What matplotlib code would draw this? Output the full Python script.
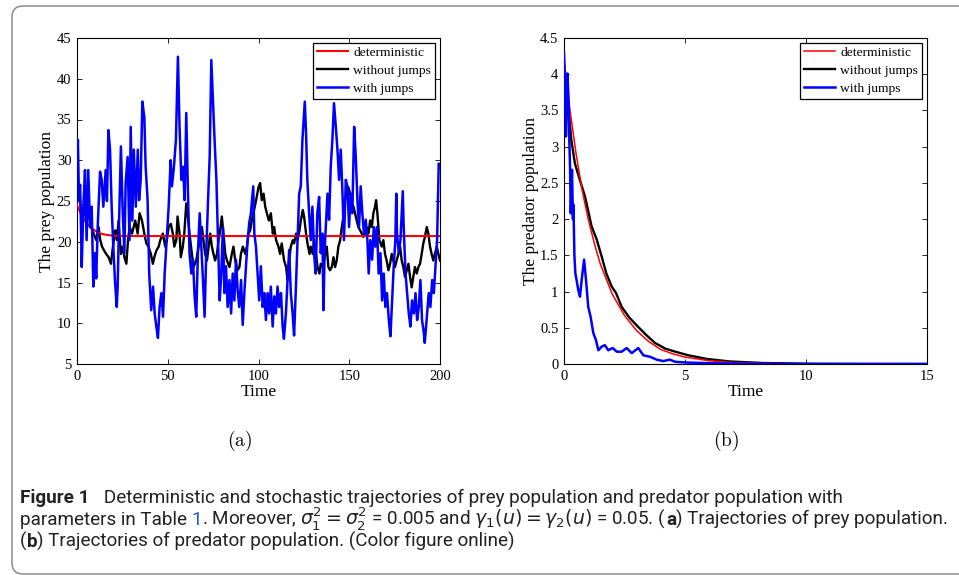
import matplotlib
matplotlib.use("Agg")
import matplotlib.pyplot as plt
from matplotlib.patches import FancyBboxPatch
from matplotlib.ticker import FuncFormatter, MultipleLocator

# (a) prey population
prey_det_t = [0, 2, 4, 6, 8, 10, 13, 16, 20, 25, 200]
prey_det_v = [24.5, 23.5, 22.7, 22.1, 21.7, 21.35, 21.0, 20.85, 20.75, 20.7, 20.7]

prey_nojump_t = [
    0.0, 1.5, 2.8, 4.0, 5.1, 6.4, 7.7, 9.2, 10.6, 11.9, 12.8, 13.8, 15.0, 16.1, 17.4,
    18.7, 19.8, 21.1, 22.0, 22.9, 24.2, 25.3, 26.1, 27.2, 28.1, 29.0, 30.3, 31.2, 32.1,
    33.4, 34.5, 35.8, 37.1, 38.2, 39.4, 40.7, 41.8, 42.6, 43.7, 45.0, 45.9, 47.3, 48.6,
    49.5, 50.5, 51.7, 52.8, 53.6, 54.7, 55.4, 56.5, 57.2, 58.3, 59.1, 60.2, 60.9, 62.0,
    63.3, 64.2, 65.7, 67.0, 67.9, 68.8, 69.7, 70.6, 71.6, 72.5, 73.4, 74.3, 75.2, 76.1,
    77.1, 78.0, 78.9, 79.8, 80.7, 81.7, 82.6, 84.0, 85.3, 86.2, 87.2, 88.4, 89.5, 90.3,
    91.4, 92.7, 93.6, 94.5, 95.4, 96.3, 97.2, 98.7, 100.0, 100.9, 101.8, 102.8, 103.7,
    104.6, 105.7, 106.8, 107.9, 108.6, 109.7, 111.0, 111.9, 112.8, 114.1, 115.2, 116.0,
    117.1, 117.8, 118.9, 119.6, 120.7, 121.5, 122.6, 123.3, 124.4, 125.1, 126.2, 127.0,
    128.1, 128.8, 129.9, 130.6, 131.7, 132.5, 133.6, 134.3, 135.4, 136.7, 137.6, 138.5,
    139.4, 140.4, 141.3, 142.2, 143.1, 144.0, 145.0, 145.9, 146.8, 147.7, 148.6, 149.5,
    150.5, 151.4, 152.3, 153.2, 154.1, 155.0, 156.0, 156.9, 157.8, 158.7, 159.6, 160.6,
    161.5, 162.4, 163.3, 164.2, 164.8, 165.5, 166.6, 167.9, 168.8, 169.7, 170.6, 171.6,
    172.5, 173.4, 174.3, 175.2, 176.1, 177.1, 178.0, 178.9, 179.8, 180.7, 181.7, 182.6,
    183.5, 184.4, 185.3, 186.2, 187.2, 188.1, 189.0, 189.9, 190.8, 191.7, 192.7, 193.6,
    194.5, 195.4, 196.3, 197.2, 198.2, 199.1, 200.0,
]
prey_nojump_v = [
    26.7, 25.1, 23.5, 24.3, 22.6, 23.5, 21.8, 21.0, 20.2, 21.8, 20.2, 19.4, 18.9, 18.5, 18.1,
    17.3, 19.4, 21.4, 20.2, 22.6, 18.5, 19.4, 18.1, 17.3, 20.2, 21.8, 21.0, 21.8, 22.6,
    21.0, 23.5, 22.6, 21.0, 19.8, 19.4, 18.5, 17.3, 18.1, 18.9, 19.4, 20.2, 21.0, 19.4,
    20.2, 21.8, 22.2, 21.0, 19.4, 20.2, 23.1, 21.0, 18.1, 19.4, 21.0, 24.7, 23.5, 21.0,
    18.5, 16.9, 17.7, 19.4, 21.0, 21.8, 20.2, 18.5, 17.7, 19.4, 21.0, 19.4, 18.5, 17.7,
    18.5, 20.2, 21.4, 23.1, 21.0, 18.5, 17.7, 16.9, 18.5, 19.4, 17.7, 16.5, 16.9, 18.5,
    19.4, 18.5, 19.4, 21.0, 21.4, 22.6, 23.5, 25.1, 26.7, 27.2, 25.1, 25.9, 24.3,
    23.5, 22.6, 23.5, 21.0, 21.8, 20.2, 19.4, 18.5, 19.8, 17.7, 16.9, 15.3,
    18.1, 19.4, 20.2, 19.8, 21.0, 20.2, 21.4, 22.6, 23.9, 23.1, 21.0, 19.8,
    18.5, 19.4, 18.5, 20.2, 18.5, 16.9, 16.1, 17.3, 16.9, 18.5, 19.4, 16.9,
    16.5, 16.9, 18.1, 16.9, 17.7, 19.4, 20.2, 21.8, 23.1, 25.1, 25.9, 26.7,
    25.9, 24.7, 24.3, 23.5, 22.6, 21.8, 21.4, 21.0, 20.6, 21.0, 21.8, 21.0,
    22.6, 21.8, 23.5, 24.3, 25.1, 23.5, 20.2, 19.4, 20.2, 18.5, 17.7, 16.5,
    17.3, 18.5, 17.7, 16.9, 17.7, 18.5, 19.4, 17.7, 16.9, 15.7, 16.5, 17.3,
    15.7, 14.4, 15.7, 16.9, 16.1, 16.9, 17.3, 18.5, 19.8, 20.6, 21.8, 21.0,
    19.4, 18.5, 17.7, 18.5, 19.4, 18.5, 17.7,
]

prey_jump_t = [
    0.0, 0.5, 1.1, 1.7, 2.2, 2.6, 3.5, 4.4, 5.3, 6.2, 7.2, 8.1, 9.0, 9.9, 10.6, 11.4,
    12.7, 13.6, 14.5, 15.8, 16.5, 17.3, 18.2, 19.1, 20.0, 20.9, 21.9, 22.4, 23.1, 24.2,
    25.1, 26.1, 26.8, 27.9, 28.9, 29.6, 30.5, 31.3, 32.4, 33.5, 34.2, 35.1, 36.0, 37.1,
    37.8, 38.9, 39.8, 40.9, 41.9, 42.8, 43.7, 44.6, 45.5, 46.5, 47.4, 48.3, 49.2, 50.5,
    51.6, 52.3, 53.4, 54.5, 55.6, 56.5, 57.5, 58.4, 59.3, 60.2, 61.1, 62.0, 63.0, 63.9,
    64.8, 65.7, 66.6, 67.6, 68.5, 69.4, 70.3, 71.2, 72.2, 73.1, 74.0, 74.9, 75.8, 76.8,
    77.7, 78.6, 79.5, 80.4, 81.2, 82.1, 83.0, 84.0, 84.9, 85.8, 86.7, 87.6, 88.5, 89.4,
    90.4, 91.3, 92.2, 93.1, 94.0, 94.9, 95.8, 97.1, 97.7, 98.6, 99.5, 100.4, 101.3,
    102.3, 103.2, 104.1, 105.0, 105.9, 106.8, 107.8, 108.7, 109.6, 110.5, 111.4, 112.4,
    113.3, 114.0, 115.1, 116.0, 116.9, 117.8, 118.8, 119.6, 120.5, 121.4, 122.4, 123.3,
    124.2, 125.5, 126.2, 126.9, 127.9, 128.8, 129.7, 130.6, 131.5, 132.4, 133.4, 134.3,
    135.2, 135.8, 136.5, 137.2, 138.0, 138.9, 139.8, 140.7, 141.6, 142.6, 143.5, 144.4,
    145.3, 146.2, 147.1, 148.1, 149.0, 149.9, 150.8, 151.7, 152.7, 153.6, 154.5, 155.4,
    156.3, 157.2, 158.1, 159.1, 160.0, 160.7, 161.6, 162.6, 163.5, 164.4, 165.3, 166.2,
    167.2, 168.1, 169.0, 169.9, 170.8, 171.8, 172.7, 173.6, 174.5, 175.4, 175.9, 176.3,
    177.3, 178.2, 179.5, 180.0, 181.0, 181.9, 182.8, 183.7, 184.6, 185.6, 186.5, 187.4,
    188.3, 189.2, 190.1, 191.1, 191.6, 192.9, 193.8, 194.7, 195.7, 196.6, 197.5, 198.4,
    199.3, 200.0,
]
prey_jump_v = [
    29.5, 32.5, 25.1, 27.0, 21.8, 16.9, 24.3, 28.8, 20.2, 28.8, 21.8, 24.3, 14.5, 18.6, 15.5, 21.8,
    28.6, 27.6, 24.3, 28.8, 25.0, 33.7, 31.3, 24.3, 19.4, 15.3, 12.0, 14.5, 21.8, 31.7,
    24.3, 18.6, 27.2, 30.4, 20.2, 34.1, 22.6, 31.3, 24.3, 31.3, 25.1, 27.6, 37.2, 35.3,
    29.3, 25.1, 16.0, 11.6, 14.5, 11.2, 9.6, 8.2, 12.0, 13.7, 10.8, 16.1, 19.4, 24.3,
    30.0, 26.8, 29.2, 32.5, 42.7, 34.1, 27.6, 29.2, 25.1, 35.8, 26.4, 18.6, 16.1, 17.8,
    13.3, 10.8, 18.6, 23.5, 19.4, 15.3, 10.8, 18.6, 25.1, 30.4, 42.3, 37.4, 32.5, 27.6,
    20.2, 12.8, 16.1, 21.8, 13.7, 17.0, 12.0, 15.3, 11.2, 16.1, 12.8, 17.8, 14.1, 12.0,
    15.3, 9.8, 13.7, 17.0, 20.2, 22.3, 23.5, 26.8, 21.0, 19.4, 16.1, 12.8, 17.0,
    12.0, 13.7, 10.4, 13.7, 11.2, 14.5, 9.6, 13.3, 11.2, 14.5, 12.0, 13.7,
    9.6, 8.1, 11.2, 15.3, 19.0, 13.7, 11.2, 8.5, 13.7, 19.4, 25.9, 26.8,
    32.5, 37.2, 33.3, 27.6, 23.5, 20.2, 24.3, 18.6, 16.1, 23.5, 25.5, 18.6,
    21.0, 11.6, 19.4, 22.3, 25.9, 22.7, 29.2, 32.5, 37.0, 34.1, 31.3, 27.6,
    31.3, 26.4, 20.2, 27.6, 26.8, 21.8, 25.9, 23.5, 34.1, 30.4, 25.1, 21.8,
    26.8, 23.5, 21.0, 22.7, 20.2, 16.1, 20.2, 17.8, 21.8, 19.4, 21.8, 16.1,
    18.6, 12.8, 16.1, 12.0, 13.7, 10.4, 8.4, 12.8, 17.0, 20.2, 25.9, 21.0,
    18.6, 20.2, 26.2, 21.8, 16.1, 13.7, 11.2, 9.6, 12.8, 11.2, 13.7, 10.4,
    12.0, 15.3, 10.4, 8.8, 7.6, 11.2, 13.7, 12.0, 15.3, 13.7, 17.0, 20.2,
    29.6, 29.2,
]

# (b) predator population
pred_det_t = [0, 0.25, 0.5, 0.75, 1, 1.25, 1.5, 2, 2.5, 3, 3.5, 4, 4.5, 5, 6, 7, 8, 9, 10, 12, 15]
pred_det_v = [4.2, 3.5, 2.9, 2.4, 2.0, 1.67, 1.38, 0.96, 0.67, 0.46, 0.31, 0.2, 0.14, 0.095,
              0.045, 0.02, 0.01, 0.005, 0.002, 0.0005, 0.0]

pred_nojump_t = [0, 0.14, 0.3, 0.45, 0.6, 0.87, 1.14, 1.35, 1.56, 1.75, 1.97, 2.15, 2.38, 2.7,
                 3.07, 3.4, 3.76, 4.2, 4.6, 5.14, 5.9, 6.85, 8.2, 10.3, 12, 15]
pred_nojump_v = [4.0, 3.69, 3.1, 2.77, 2.6, 2.31, 1.9, 1.72, 1.48, 1.25, 1.07, 0.98, 0.79, 0.64,
                 0.51, 0.4, 0.29, 0.21, 0.17, 0.12, 0.07, 0.035, 0.014, 0.003, 0.001, 0.0]

pred_jump_t = [0, 0.04, 0.08, 0.14, 0.19, 0.22, 0.25, 0.28, 0.33, 0.37, 0.39, 0.43, 0.47, 0.52,
               0.59, 0.66, 0.73, 0.83, 0.91, 1.0, 1.1, 1.21, 1.32, 1.42, 1.56, 1.69, 1.83, 2.01,
               2.18, 2.38, 2.59, 2.8, 3.07, 3.28, 3.55, 3.83, 4.1, 4.37, 4.6, 5.06, 6.2, 7.5, 10, 15]
pred_jump_v = [4.29, 3.92, 3.14, 4.01, 3.64, 3.09, 2.72, 2.08, 2.68, 2.0, 2.2, 1.5, 1.25, 1.16,
               1.02, 0.93, 1.16, 1.44, 1.16, 0.79, 0.65, 0.43, 0.33, 0.19, 0.24, 0.26, 0.19, 0.22,
               0.17, 0.17, 0.22, 0.15, 0.22, 0.12, 0.10, 0.06, 0.04, 0.06, 0.03, 0.02, 0.01, 0.003, 0.0, 0.0]

legend_labels = ["deterministic", "without jumps", "with jumps"]

plt.rcParams["font.family"] = ["Liberation Serif", "DejaVu Serif"]
plt.rcParams["mathtext.fontset"] = "cm"

W, H = 959, 575
fig = plt.figure(figsize=(W / 100, H / 100), dpi=100)
fig.patch.set_facecolor("white")


def px_axes(x0, y0, x1, y1):
    return fig.add_axes([x0 / W, 1 - y1 / H, (x1 - x0) / W, (y1 - y0) / H])


def style_axes(ax, xlabel, ylabel):
    ax.tick_params(direction="in", top=True, right=True, labelsize=10.5, length=3.5,
                   width=0.6, pad=4)
    for s in ax.spines.values():
        s.set_linewidth(0.8)
    ax.xaxis.set_major_formatter(FuncFormatter(lambda v, p: f"{v:g}"))
    ax.yaxis.set_major_formatter(FuncFormatter(lambda v, p: f"{v:g}"))
    ax.set_xlabel(xlabel, fontsize=12.5, labelpad=1)
    ax.set_ylabel(ylabel, fontsize=12.5, labelpad=1)
    ax.legend(legend_labels, loc="upper right", fontsize=9.7, frameon=True, fancybox=False,
              edgecolor="black", framealpha=1, handlelength=2.3, handletextpad=0.4,
              borderpad=0.3, labelspacing=0.4, borderaxespad=0.35)
    ax.get_legend().get_frame().set_linewidth(0.9)


ax1 = px_axes(77, 38, 440, 364)
ax1.plot(prey_det_t, prey_det_v, color="red", lw=1.5, zorder=3)
ax1.plot(prey_nojump_t, prey_nojump_v, color="black", lw=1.7, zorder=2)
ax1.plot(prey_jump_t, prey_jump_v, color="blue", lw=1.8, zorder=4)
ax1.set_xlim(0, 200)
ax1.set_ylim(5, 45)
ax1.xaxis.set_major_locator(MultipleLocator(50))
ax1.yaxis.set_major_locator(MultipleLocator(5))
style_axes(ax1, "Time", "The prey population")

ax2 = px_axes(564, 38, 927, 364)
ax2.plot(pred_det_t, pred_det_v, color="red", lw=1.1, zorder=3)
ax2.plot(pred_nojump_t, pred_nojump_v, color="black", lw=1.7, zorder=2)
ax2.plot(pred_jump_t, pred_jump_v, color="blue", lw=1.8, zorder=4)
ax2.set_xlim(0, 15)
ax2.set_ylim(0, 4.5)
ax2.xaxis.set_major_locator(MultipleLocator(5))
ax2.yaxis.set_major_locator(MultipleLocator(0.5))
style_axes(ax2, "Time", "The predator population")

fig.text(240 / W, 1 - 441 / H, r"$\mathrm{(a)}$", ha="center", va="center", fontsize=14)
fig.text(726 / W, 1 - 441 / H, r"$\mathrm{(b)}$", ha="center", va="center", fontsize=14)

# rounded frame around the figure block
frame = FancyBboxPatch((12 / 100, 1 / 100), 9.8, (H - 7) / 100,
                       boxstyle="round,pad=0,rounding_size=0.11",
                       transform=fig.dpi_scale_trans, fill=False,
                       edgecolor="#8a8a8a", lw=1.1)
fig.add_artist(frame)

# caption
renderer = fig.canvas.get_renderer()
cap = dict(family=["Roboto", "DejaVu Sans"], fontsize=13.6, color="#222222",
           math_fontfamily="dejavusans", va="baseline")


def caption_line(y, segments):
    x = 20 / W
    for text, extra in segments:
        kw = dict(cap)
        kw.update(extra)
        t = fig.text(x, 1 - y / H, text, **kw)
        x += t.get_window_extent(renderer).width / W


caption_line(503, [("Figure 1", {"weight": "bold"}),
                   ("   Deterministic and stochastic trajectories of prey population and "
                    "predator population with", {})])
caption_line(525, [("parameters in Table ", {}), ("1", {"color": "#1a5bd6"}),
                   (r". Moreover, $\sigma_1^2=\sigma_2^2$ = 0.005 and "
                    r"$\gamma_1(u)=\gamma_2(u)$ = 0.05. (", {}),
                   ("a", {"weight": "bold"}), (") Trajectories of prey population.", {})])
caption_line(547, [("(", {}), ("b", {"weight": "bold"}),
                   (") Trajectories of predator population. (Color figure online)", {})])

fig.savefig("out.png", dpi=100)
